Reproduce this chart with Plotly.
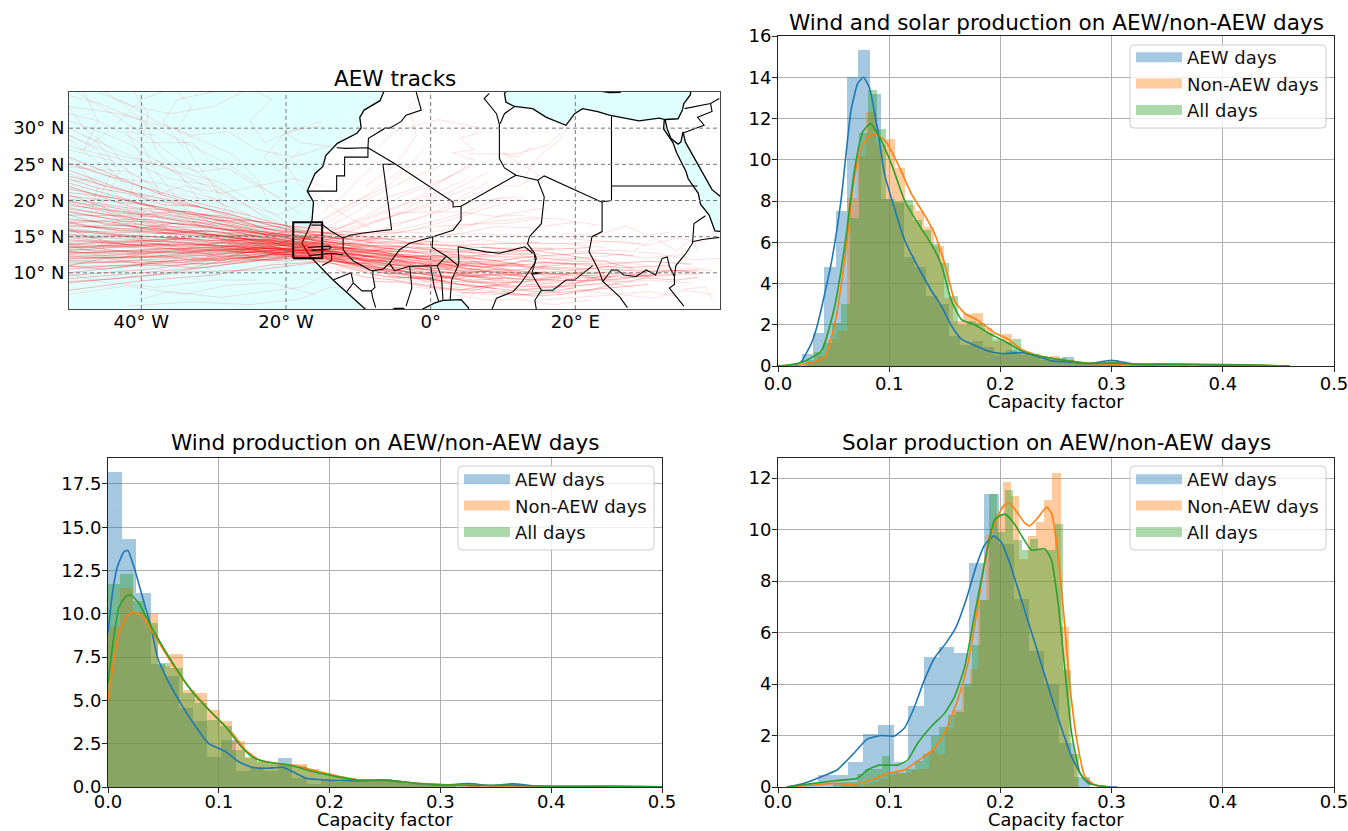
import plotly.graph_objects as go

W, H = 1348, 831
BLUE, ORANGE, GREEN = "#1f77b4", "#ff7f0e", "#2ca02c"
FONT = "DejaVu Sans"
NAMES = ["AEW days", "Non-AEW days", "All days"]

# ---------- histogram data: top right (wind and solar) ----------
tr_aew_x = [.0263,.0365,.0467,.0569,.0671,.0773,.0875,.0977,.1079,.1181,.1283,.1385,.1487,.1589,.1691,.1793,.1895,.1997,.2099,.2201,.2303,.2405,.2507,.2609,.2711,.2813,.2915,.3017,.3119,.3221,.3323,.3425,.3527,.3629]
tr_aew_y = [.6,1.6,4.8,7.5,14.0,15.3,13.2,8.1,7.9,5.3,4.8,3.4,3.0,1.45,1.0,1.2,.9,.55,.76,.65,.5,.3,.2,.45,.15,.1,.15,.3,.1,.02,.03,.15,.05,.1]
tr_non_x = [.0316,.0403,.049,.0577,.0664,.0751,.0838,.0925,.1012,.1099,.1186,.1273,.136,.1447,.1534,.1621,.1708,.1795,.1882,.1969,.2056,.2143,.223,.2317,.2404,.2491,.2578,.2665,.2752,.2839,.2926,.3013,.31,.3274,.3448,.3622,.3796,.397,.4144,.4318]
tr_non_y = [.2,.5,1.3,1.7,8.15,10.2,12.3,10.7,11.0,9.6,7.8,7.5,6.75,5.8,3.3,2.2,2.5,2.55,1.85,1.2,1.55,.7,.65,.6,.4,.5,.3,.25,.2,.15,.1,.1,.1,.05,.05,.1,.05,.02,.05,.05]
tr_all_x = [.0285,.0366,.0447,.0528,.0609,.069,.0771,.0852,.0933,.1014,.1095,.1176,.1257,.1338,.1419,.15,.1581,.1662,.1743,.1824,.1905,.1986,.2067,.2148,.2229,.231,.2391,.2472,.2553,.2634,.2715,.2796,.2877,.2958,.3039,.3201,.3363,.3525,.3687,.3849,.4011,.4173]
tr_all_y = [.3,.7,1.1,2.1,3.0,7.2,11.3,13.4,11.5,8.1,8.0,8.05,7.1,6.6,5.9,5.0,3.4,2.0,2.2,2.1,1.6,1.3,1.15,1.3,.55,.6,.5,.35,.4,.3,.15,.1,.15,.15,.2,.05,.08,.08,.05,.03,.03,.05]
tr_aew_kx = [0,.01,.02,.03,.0355,.0476,.0566,.0657,.0717,.0768,.0822,.0898,.0958,.1033,.1139,.126,.138,.147,.156,.165,.177,.189,.201,.219,.231,.246,.261,.28,.3,.32,.35,.4,.46]
tr_aew_ky = [0,.03,.15,1.1,2.0,4.9,8.0,12.4,13.7,14.0,13.5,11.4,9.3,7.9,6.1,4.8,3.65,2.9,1.95,1.3,1.0,.73,.6,.65,.5,.25,.2,.12,.28,.1,.1,.03,0]
tr_non_kx = [0,.02,.0416,.052,.061,.067,.073,.0807,.0883,.0973,.1078,.12,.132,.141,.15,.159,.168,.18,.195,.207,.219,.234,.252,.261,.28,.3,.33,.36,.42,.46]
tr_non_ky = [0,.05,.4,2.3,5.6,8.5,10.3,11.1,11.25,10.85,9.8,8.35,7.3,6.4,4.95,3.15,2.55,2.2,1.6,1.3,.8,.5,.33,.25,.12,.1,.05,.08,.06,0]
tr_all_kx = [0,.02,.0386,.0506,.061,.0687,.0762,.0831,.0913,.102,.114,.126,.138,.147,.156,.165,.177,.189,.204,.219,.234,.261,.28,.3,.33,.36,.42,.46]
tr_all_ky = [0,.15,.7,2.8,6.2,9.5,11.35,11.75,11.1,9.8,8.0,6.9,5.9,4.9,3.15,2.25,2.0,1.6,1.2,.73,.5,.25,.13,.15,.06,.08,.06,0]

# ---------- histogram data: bottom left (wind) ----------
bl_aew_x = [.0064,.0192,.032,.0448,.0576,.0704,.0832,.096,.1088,.1216,.1344,.1472,.16,.1728,.1856,.1984,.2112,.224,.2368,.2496,.2624,.2752,.288,.3008,.3136,.3264,.3392,.352,.3648]
bl_aew_y = [18.2,14.3,11.2,7.1,6.4,4.55,3.8,1.75,2.7,.9,1.1,.95,1.7,.5,.15,.4,.3,.35,.45,.45,.3,.2,.1,.1,.05,.25,.05,.05,.2]
bl_non_x = [.0056,.0168,.028,.0392,.0504,.0616,.0728,.084,.0952,.1064,.1176,.1288,.14,.1512,.1624,.1736,.1848,.196,.2072,.2184,.2296,.2408,.252,.2632,.2744,.2856,.2968,.308,.3304,.3528,.3976,.4424]
bl_non_y = [9.3,11.5,10.1,10.0,7.0,7.67,5.6,5.4,4.45,3.8,2.65,1.75,1.45,1.4,1.3,1.35,1.05,.8,.6,.5,.45,.4,.4,.3,.25,.2,.15,.15,.1,.08,.05,.05]
bl_all_x = bl_non_x
bl_all_y = [11.7,12.3,10.75,9.5,7.15,6.9,5.4,4.85,3.85,3.5,2.15,1.7,1.5,1.3,1.25,1.2,1.0,.8,.65,.5,.45,.4,.4,.3,.25,.2,.15,.15,.12,.1,.05,.05]
bl_aew_kx = [0,.004,.0084,.0145,.018,.0235,.031,.0386,.0446,.052,.064,.079,.091,.106,.118,.13,.1425,.1575,.1666,.179,.197,.227,.25,.28,.3,.325,.345,.365,.39,.42,.46,.5]
bl_aew_ky = [8.9,11.2,12.7,13.6,13.65,12.7,11.0,9.3,7.5,6.4,5.0,3.5,2.5,2.05,1.46,1.14,1.08,1.14,.89,.5,.4,.37,.42,.2,.1,.2,.08,.18,.04,.02,.02,.01]
bl_non_kx = [0,.004,.01,.0175,.0235,.031,.0416,.055,.07,.085,.1,.1123,.124,.1365,.1515,.1726,.19,.209,.227,.25,.28,.3,.33,.36,.4,.45,.5]
bl_non_ky = [5.0,6.8,8.9,9.9,10.1,9.85,8.8,7.4,6.0,4.9,3.87,3.1,2.14,1.56,1.37,1.18,.89,.6,.4,.38,.22,.14,.08,.06,.04,.05,.01]
bl_all_kx = [0,.004,.01,.016,.0205,.028,.037,.0476,.061,.076,.091,.106,.118,.13,.1425,.1636,.185,.206,.227,.25,.28,.3,.33,.36,.4,.45,.5]
bl_all_ky = [6.0,8.1,10.4,11.0,11.1,10.6,9.5,8.3,6.9,5.5,4.45,3.5,2.5,1.75,1.46,1.27,.89,.6,.37,.38,.2,.14,.1,.1,.04,.04,.01]

# ---------- histogram data: bottom right (solar) ----------
br_aew_x = [.0294,.0429,.0565,.07,.0836,.0971,.1107,.1242,.1378,.1513,.1649,.1784,.192,.2055,.2191,.2326,.2462,.2597,.2733]
br_aew_y = [.1,.47,.47,.96,2.05,2.4,.96,3.15,5.06,5.43,5.2,8.7,11.4,9.45,7.3,5.3,4.0,1.7,.4]
br_non_x = [.06,.07,.08,.0876,.095,.1024,.1098,.1172,.1246,.132,.1394,.1468,.1542,.1616,.169,.1764,.1838,.1912,.1986,.206,.2134,.2208,.2282,.2356,.243,.2504,.2578,.2652]
br_non_y = [.05,.1,.1,.2,.3,.45,.55,.55,.65,.7,1.4,1.3,2.3,3.0,3.9,4.6,7.25,9.8,10.6,11.85,11.3,8.85,9.75,10.3,11.15,12.2,6.2,1.3]
br_all_x = [.053,.06,.0674,.0748,.0822,.0896,.097,.1044,.1118,.1192,.1266,.134,.1414,.1488,.1562,.1636,.171,.1784,.1858,.1932,.2006,.208,.2154,.2228,.2302,.2376,.245,.2524,.2598,.2672]
br_all_y = [.15,.2,.2,.5,.7,.7,1.2,.6,.55,.7,1.0,1.3,2.0,2.35,2.8,2.9,4.0,5.5,7.25,11.4,9.9,11.55,9.6,9.2,9.65,9.2,9.2,10.2,4.55,1.3]
br_aew_kx = [.008,.023,.038,.053,.068,.08,.0925,.1045,.1135,.1226,.1316,.1406,.1512,.16,.169,.178,.1858,.194,.201,.2084,.219,.231,.243,.2536,.264,.2747,.285,.297,.305]
br_aew_ky = [0,.14,.38,.66,1.3,1.85,2.0,1.98,2.28,3.1,4.15,5.0,5.6,6.2,7.25,8.55,9.4,9.75,9.5,8.7,7.25,5.6,3.9,2.47,1.18,.34,.08,.01,0]
br_non_kx = [.008,.032,.053,.068,.0834,.0985,.1135,.1286,.1406,.1497,.1617,.1708,.18,.1873,.195,.2024,.2075,.2145,.222,.2265,.2325,.2416,.246,.2506,.2566,.2626,.2687,.276,.285,.297]
br_non_ky = [0,.08,.14,.1,.27,.53,.66,1.1,1.5,2.1,3.4,4.8,7.1,9.1,10.25,10.9,11.05,10.7,10.25,10.15,10.4,10.87,10.63,9.47,6.9,3.9,1.83,.4,.08,0]
br_all_kx = [.008,.032,.053,.0714,.0804,.091,.1075,.1166,.1256,.1376,.1497,.1587,.168,.177,.1858,.195,.204,.213,.2205,.228,.24,.246,.252,.258,.264,.2717,.279,.297]
br_all_ky = [0,.14,.25,.34,.66,.85,.85,1.05,1.7,2.34,2.86,3.5,4.68,6.75,8.7,10.4,10.6,10.2,9.66,9.2,9.25,8.8,7.1,4.55,2.1,.53,.14,0]

# ---------- map data (lon, lat) ----------
lon_ticks = [-40, -20, 0, 20]
lon_labels = ["40° W", "20° W", "0°", "20° E"]
lat_ticks = [10, 15, 20, 25, 30]
lat_labels = ["10° N", "15° N", "20° N", "25° N", "30° N"]

africa = [(-6.4,35.5),(-6.5,35),(-7,33.8),(-9.2,32.5),(-9.8,31.5),(-9.6,30),(-10.2,29.3),(-12.9,27.9),(-14.5,26.2),(-14.9,24.7),(-16,23.7),(-16.9,21.8),(-17.06,21.3),(-16.2,19.8),(-16.4,17.3),(-16.9,16),(-17.8,14.1),(-16.7,12.3),(-15.3,10.9),(-13.5,9),(-11.5,7.2),(-9.1,5.1),(-8.5,4.5),(-5.8,4.5),(-5,5.1),(-3.8,5.1),(-3,4.5),(-1.6,4.5),(-1.1,5),(0.5,5.8),(1.7,6.2),(4.2,6.3),(5.2,5.2),(5.4,4.5),(40.5,4.5),(40.5,15.7),(39.3,15.8),(38.5,18),(37.3,19.5),(37,21),(35.6,23),(35.3,24),(34,26.6),(33.5,28),(32.2,29.9),(32.3,31.2),(31.6,31.4),(28.8,31),(24.7,31.8),(23.1,32.3),(21,32.7),(19.9,32),(18.7,30.4),(16,31.5),(14.1,32.7),(11.6,33),(10.4,33.6),(10.2,34.8),(10.8,35.5)]
arabia = [(32.4,31.2),(34.2,31.3),(34.8,32.5),(35,33.4),(35.9,34.6),(36,35.5),(40.5,35.5),(40.5,20.2),(38.9,21.5),(37.2,24.5),(35.2,28.1),(34.9,29.5),(34.6,28.1),(34.2,27.8),(33.2,28.6),(32.7,29.9)]
crete = [(23.6,35.3),(26.2,35.3),(26.2,34.95),(24.7,34.9),(23.6,35.1)]
borders = [
 [(-13,27.3),(-11.7,27.2),(-8.67,27.3),(-8.67,26),(-11.9,26),(-11.9,23.4),(-13,23.4),(-13,21.3),(-17,21.3)],
 [(-8.67,27.3),(-4.83,25),(-6.6,25),(-5.4,16),(-9.3,15.5),(-11.2,15.2),(-12.1,14.8)],
 [(-4.83,25),(1.2,21.1),(3.1,19.8),(3.1,19.1),(4.2,19.2),(11.8,23.5)],
 [(4.2,19.2),(4.2,17.3),(3.1,15.9),(0.3,15),(-2.9,14.1),(-4.3,13.2),(-5.7,11.3),(-6.6,10.5),(-8,10.3)],
 [(0.3,15),(0.2,13.5),(1.5,12.7),(2.2,12.3),(3.8,11)],
 [(3.8,13.6),(3.9,11.5),(3.8,11),(2.9,9),(2.7,6.3)],
 [(3.8,13.6),(7.7,12.9),(9.5,12.7),(13,13.6),(14.1,12.7)],
 [(13.66,15),(15.3,16.8),(15.7,20.5),(14.8,22.8),(11.8,23.5)],
 [(13.66,15),(13.4,14),(14.3,12.8),(14.6,12),(14,10),(15.3,10),(14,9.8),(15.3,7.6),(14.4,6.2),(14.6,5)],
 [(14.8,22.8),(15.7,23.4),(23.6,19.8),(25,20),(25,31.8)],
 [(25,22),(36.9,22)],
 [(23.7,19.8),(23.7,15.7),(22.3,15),(21.9,12.9),(22.6,11.6),(23.3,10.2),(23.8,8.8),(26.1,6.7),(27.2,5.2)],
 [(15.3,7.6),(16.9,7.6),(18.7,9),(19.9,9),(22.4,11)],
 [(14.3,12.8),(14.5,11.5),(12.5,8.6),(11.4,7.4),(9.1,6.5),(8.5,5)],
 [(23.8,8.8),(25,10.4),(25.8,10.4),(26.7,9.7),(28.4,9.5),(29.8,10.4),(31.1,9.7),(32,12),(32.7,12.2),(33,10.9),(33.7,9.5),(33.7,8.4),(33,7.9),(35,5.4)],
 [(33.7,9.5),(33.9,11),(35.3,12.7),(36.2,14.1),(36.4,16.8),(38,17.9)],
 [(36.2,14.3),(37.6,14.6),(39.9,14.9)],
 [(-2,35),(-1.3,32.5),(-3.4,31.8),(-4.1,30.9),(-5.7,30),(-6.3,30),(-8.6,28.6),(-8.67,27.3)],
 [(8.1,34.8),(7.4,34.1),(9.1,32),(9.5,30.5),(9.5,25.8),(10.2,24.5),(11.8,23.5)],
 [(9.6,30.6),(10.2,32),(11.6,33)],
 [(-16.5,16.6),(-14.9,16.6),(-13.7,15.7),(-12.1,14.8),(-12.1,13.2),(-11.3,12.2),(-10.6,11.6),(-8.4,10.4),(-8,10.3),(-8,9.6),(-7.7,8),(-8.2,7.5),(-8,6.5),(-7.6,5.2)],
 [(-17,13.5),(-14,13.7),(-13.8,13.5),(-14,13.3),(-16.5,13.1)],
 [(-16.7,12.4),(-13.7,12.7),(-12.1,12.5)],
 [(-13.7,12.7),(-13.7,11.7),(-15,11)],
 [(-13.5,9),(-11,10),(-10.7,8.6),(-11.6,7.4)],
 [(-10.7,8.6),(-9.5,7.5),(-8.2,7.5)],
 [(-5.7,11.3),(-5,10.3),(-2.9,10.9),(-0.1,10.9),(0.9,11),(2.2,12.3)],
 [(-2.9,10.9),(-2.6,7.9),(-3.4,5.4)],
 [(0,10.9),(0.5,8),(1.1,6.1)],
 [(0.9,11),(1.5,9.4),(1.7,6.3)],
 [(35.1,32.7),(38.7,33.4),(39.9,34.1)],
 [(38.7,33.4),(38.9,32.3),(36.9,31.5),(37.8,30.4),(34.8,29.3)],
]
box_lon = [-19, -15, -15, -19, -19]
box_lat = [12, 12, 17, 17, 12]

tracks_main = [
 [(37,10.4),(30,10.2),(22,10.6),(14,10.8),(6,11.2),(-2,12),(-10,13),(-17,14),(-24,14.4),(-32,15.5),(-41,16.4),(-50,17.5)],
 [(34,9.8),(27,9.4),(20,9.7),(12,10.1),(4,10.2),(-5,11.4),(-12,12.4),(-19,13.2),(-27,13.6),(-36,14.2),(-44,14.8),(-50,15)],
 [(36,11.2),(30,11.6),(24,11.2),(16,11.4),(9,10.8),(1,11),(-7,12),(-15,13.1),(-22,13.4),(-30,13.1),(-39,13.4),(-50,14)],
 [(32,10),(26,9.1),(19,8.9),(12,9.2),(6,9.4),(0,10.4),(-8,11.5),(-16,12.6),(-24,12.5),(-33,12.4),(-42,12),(-50,12.2)],
 [(28,12.4),(22,12.8),(15,12.3),(8,11.6),(2,11.5),(-6,12.7),(-14,14.3),(-21,15.2),(-29,16.8),(-38,18.4),(-50,20.2)],
 [(25,9.4),(18,8.2),(12,8.1),(6,8.7),(-1,9.8),(-9,11),(-17,12.8),(-25,13.1),(-34,12.9),(-43,13.1),(-50,13.2)],
 [(30,8.4),(24,7.9),(18,7.3),(11,7.6),(4,8.4),(-3,9.5),(-11,11.2),(-18,12.3),(-26,12.1),(-35,11.4),(-44,11),(-50,10.5)],
 [(22,13.5),(15,13.1),(8,12.8),(0,12.9),(-7,13.4),(-15,14.7),(-23,15.6),(-31,17.6),(-40,19.6),(-50,22.4)],
 [(20,11.2),(13,11.6),(6,10.5),(-2,11.2),(-10,12),(-18,13.6),(-26,14.8),(-34,15.6),(-43,17.2),(-50,18.5)],
 [(16,10.2),(10,9.6),(4,9.9),(-3,10.8),(-11,12.1),(-18,13),(-25,13.9),(-33,14.7),(-42,15.2),(-50,16.1)],
 [(26,11),(19,10.3),(11,9.7),(4,10.8),(-4,12.4),(-12,13.5),(-19,14.4),(-27,15.5),(-36,16.1),(-44,17.9),(-50,19)],
 [(18,9.2),(11,8.6),(5,8.9),(-2,10),(-9,11),(-16,12.1),(-23,12.9),(-31,12.6),(-40,12.9),(-50,12.8)],
 [(14,12.2),(8,12.2),(2,12.6),(-5,13),(-13,14),(-20,14.1),(-28,14),(-37,14.9),(-45,15.4),(-50,15.7)],
 [(12,8.8),(6,8),(0,9.2),(-7,10.4),(-14,12),(-21,12.4),(-30,11.7),(-38,10.6),(-50,9.6)],
 [(24,10),(17,9.9),(10,10.4),(3,11.4),(-5,11.9),(-12,12.8),(-20,13.6),(-28,15),(-38,16.8),(-50,19.6)],
 [(10,11),(4,11.6),(-3,12.3),(-10,12.9),(-17,13.8),(-25,13.2),(-34,13.9),(-43,13.8),(-50,13.6)],
 [(8,9.5),(2,9.6),(-4,10.6),(-11,11.6),(-18,12.8),(-26,13.7),(-35,13.3),(-50,14.6)],
 [(15,14.2),(9,14),(3,13.8),(-4,14.2),(-11,14.6),(-17,15.4),(-24,17),(-31,18.9),(-39,20.2),(-50,24.2)],
 [(6,13),(0,13.5),(-7,13.7),(-14,13.9),(-20,14.8),(-27,16.2),(-36,17.4),(-44,18.6),(-50,20.8)],
 [(5,11),(-1,11.5),(-8,12.7),(-15,13.4),(-22,14.4),(-30,14.5),(-39,15),(-50,15.2)],
 [(4,9.2),(-2,9.9),(-9,10.8),(-15,12),(-22,11.9),(-31,11.2),(-40,11.7),(-50,11.2)],
 [(2,12.2),(-5,12.3),(-12,13),(-19,13.9),(-27,13.2),(-36,13),(-45,12.4),(-50,13)],
 [(0,10.8),(-6,11.2),(-13,12.5),(-20,12.8),(-28,12.9),(-37,12.3),(-50,11.9)],
 [(-1,14),(-8,14.2),(-14,14.9),(-20,16),(-28,18.2),(-35,19.8),(-43,21.5),(-50,23.4)],
 [(-2,12.8),(-9,13.2),(-16,13.7),(-23,14.1),(-31,14.9),(-40,14.4),(-50,14.4)],
 [(-3,11),(-9,11.9),(-16,12.9),(-23,13.4),(-32,13.9),(-41,14.9),(-50,15.9)],
 [(-4,13.6),(-10,13.9),(-16,14.4),(-22,15.6),(-30,16.2),(-38,17.8),(-50,18)],
 [(-5,12),(-11,12.6),(-17,13.3),(-24,12.3),(-33,11.9),(-42,10.9),(-50,10)],
 [(-6,10.6),(-12,11.9),(-18,13.4),(-26,13.4),(-33,14.2),(-42,13.9),(-50,15.4)],
 [(-7,14.7),(-13,14.7),(-19,15.1),(-26,16.9),(-34,17.9),(-42,20),(-50,21.6)],
 [(-8,12.2),(-14,12.9),(-20,13.2),(-27,12.7),(-36,12.1),(-50,12.5)],
 [(-9,13.4),(-15,13.6),(-21,14.6),(-28,14.5),(-37,15.6),(-45,16),(-50,16.9)],
 [(-10,11.2),(-16,12.2),(-22,12.6),(-29,11.4),(-37,11),(-50,10.9)],
 [(-11,13.9),(-17,14.6),(-23,14.8),(-31,16.5),(-40,17.1),(-50,17.2)],
 [(-12,12.1),(-18,12.4),(-25,12.8),(-33,13.4),(-41,12.8),(-50,13.9)],
 [(-13,15.4),(-18,15.9),(-25,17.9),(-32,19.6),(-41,22.2),(-50,25.2)],
 [(-13,13),(-19,13),(-26,12.4),(-34,12),(-44,11.6),(-50,11.7)],
 [(-14,14),(-20,14.3),(-27,14.8),(-35,15.9),(-45,16.7),(-50,18)],
 [(-15,12.5),(-21,13.1),(-29,13.3),(-38,13.9),(-50,13.1)],
 [(-15,15.2),(-21,15.8),(-28,17),(-36,18.8),(-44,20.4),(-50,21.1)],
 [(-16,13.1),(-23,13.5),(-31,13),(-39,12.2),(-50,12)],
 [(-16,14.7),(-22,15.1),(-30,15.2),(-38,16),(-50,16.4)],
 [(-17,12.5),(-24,11.6),(-31,10.8),(-40,10),(-50,9.2)],
 [(-17,14.1),(-24,15),(-32,17),(-40,18.2),(-50,19.3)],
 [(-18,13.3),(-26,13.1),(-35,14.4),(-44,14.2),(-50,14.9)],
 [(-18,15.6),(-25,16.4),(-33,18.4),(-41,19),(-50,22)],
 [(-19,13.7),(-27,14.2),(-36,13.7),(-50,13.5)],
 [(-20,12.2),(-28,11.2),(-37,9.9),(-50,8.6)],
 [(-20,15),(-28,15.9),(-37,17),(-50,18.8)],
 [(-22,13.8),(-30,13.5),(-40,13.2),(-50,12.6)],
 [(-24,14),(-33,15.4),(-43,15.8),(-50,17)],
 [(-12,14.3),(-17,15),(-23,16.2),(-30,18.5),(-38,21.1),(-50,26)],
 [(-8,11.2),(-14,11.6),(-22,11.1),(-30,9.7),(-40,8.9),(-50,7.6)],
 [(-16,11.4),(-24,10.4),(-34,10.1),(-43,9.2),(-50,8.8)],
 [(3,12),(-3,13),(-10,14),(-16,14.2),(-23,14.5),(-30,15.7),(-40,15.9),(-50,16.6)],
 [(7,10.8),(0,11.8),(-7,12.6),(-14,13),(-21,13.9),(-29,13.8),(-40,14),(-50,13.4)],
 [(11,10),(4,10.4),(-3,11.6),(-10,12.4),(-17,13.1),(-24,13),(-33,12.8),(-43,12.6),(-50,12.9)],
 [(13,11),(7,12),(0,12.2),(-7,12.9),(-14,13.5),(-21,14.2),(-29,15),(-39,15.5),(-50,15.8)],
 [(9,8.6),(3,8.8),(-4,9.4),(-10,10.8),(-16,12.4),(-22,12.1),(-31,11.9),(-41,11.4),(-50,11.5)],
]
tracks_core = [
 [(-3,12.1),(-7,12.4),(-10,12.2),(-13,12.9),(-16,13.2),(-19,13.1),(-22,13.7),(-25,13.3),(-28,14)],
 [(-2,11.3),(-6,11.9),(-9,11.6),(-12,12.5),(-15,12.7),(-18,13.5),(-21,13.2),(-24,13.8),(-27,13.4)],
 [(-4,12.9),(-8,13),(-11,13.4),(-14,13.2),(-17,13.6),(-20,13.4),(-23,12.9),(-26,13.5)],
 [(-1,10.3),(-5,10.8),(-8,11.4),(-11,11.3),(-14,12.3),(-17,12.4),(-20,12.9),(-24,12.7),(-28,13)],
 [(-5,13.3),(-9,13.7),(-12,13.5),(-15,14),(-18,14.4),(-21,14.3),(-24,14.9),(-28,15.3)],
 [(-6,11.6),(-10,12.6),(-13,12.2),(-16,12.9),(-19,12.5),(-22,13),(-26,12.8)],
 [(-7,13.1),(-10,13),(-13,13.8),(-16,13.4),(-19,14),(-22,13.6),(-25,14.2),(-29,14.4)],
 [(-4,11),(-7,11.1),(-11,12),(-14,11.9),(-17,13),(-20,12.4),(-23,13.1),(-27,12.6)],
 [(-8,14.1),(-11,14.1),(-14,13.9),(-17,14.3),(-20,14.9),(-23,15.4),(-27,16)],
 [(-3,13.5),(-6,13.4),(-9,12.9),(-12,13.1),(-15,13.8),(-18,14.1),(-22,14),(-26,14.3)],
 [(-9,12.1),(-12,11.8),(-15,12.2),(-18,12.9),(-21,12.3),(-24,13.1),(-28,12.3)],
 [(-10,13.3),(-13,13.6),(-16,13.7),(-19,13.5),(-22,14.2),(-25,13.9),(-29,13.7)],
 [(-2,9.9),(-6,9.9),(-9,10.4),(-12,11),(-15,11.6),(-18,12.2),(-22,11.7),(-26,11.9)],
 [(-11,14.8),(-14,14.9),(-17,15.2),(-20,15.2),(-24,16),(-28,16.6),(-33,17.1)],
 [(-12,12.7),(-15,12.4),(-18,12.7),(-21,13.5),(-24,13.2),(-28,13.4),(-33,13.1)],
 [(-13,13.5),(-16,14),(-19,13.8),(-22,14.6),(-26,14.7),(-31,14.4),(-36,15)],
 [(-14,11.2),(-17,11.9),(-20,11.6),(-24,11.9),(-28,11.6),(-33,12)],
 [(-14,14.5),(-17,14.7),(-20,14.5),(-24,15.5),(-28,14.9),(-33,15.7),(-38,15.4)],
 [(-15,13),(-18,13.2),(-21,12.7),(-25,12.1),(-29,12.3),(-34,11.5)],
 [(-16,15.6),(-19,15.7),(-23,15.3),(-27,15.9),(-32,16.3),(-38,16.4),(-44,17)],
 [(-19,12.8),(-23,12.3),(-27,12.4),(-32,11.6),(-37,12.4),(-42,12.5)],
 [(-20,13.9),(-24,13.6),(-29,14.2),(-34,13.4),(-40,14.3),(-46,13.8)],
 [(-21,14.8),(-26,15.2),(-31,15.9),(-36,15.4),(-42,16.6),(-48,16.4)],
 [(-23,12.4),(-28,11.9),(-33,10.7),(-39,11.3),(-45,10.5),(-50,10.9)],
 [(-25,14.6),(-30,14.1),(-36,14.7),(-42,14.4),(-50,13.9)],
 [(-26,16),(-31,17.2),(-37,18),(-43,18.2),(-50,20)],
 [(5,10.1),(2,10.7),(-1,10.5),(-4,11.6),(-7,11.6),(-10,11.7)],
 [(8,10.2),(4,10),(1,10.1),(-2,10.6),(-5,10.2),(-8,10.9),(-12,11.4)],
 [(3,11.1),(0,11.3),(-3,11.5),(-6,12),(-9,12.3),(-12,12.9)],
 [(10,9.2),(6,9),(3,9.3),(0,9.9),(-3,10),(-6,11)],
 [(7,11.9),(4,12.3),(1,12.4),(-2,12.4),(-5,12.6),(-8,13.2)],
 [(12,11.3),(8,11),(5,11.9),(2,11.8),(-1,12.3),(-4,12.2)],
 [(14,9.3),(10,9.9),(7,9.6),(4,9.6),(1,9.4),(-2,9.4)],
 [(16,11),(12,10.4),(8,10.4),(5,10.5),(2,11.2),(-1,10.9)],
 [(18,10.4),(15,10.6),(11,11.2),(8,11.4),(5,11.3),(2,10.5)],
 [(20,9.2),(16,9.4),(13,8.8),(9,8.9),(6,9.5),(3,9.9)],
 [(22,10.4),(18,9.6),(15,9),(11,9.2),(8,9.8),(4,9.3)],
 [(15,12.6),(11,12.6),(8,12.4),(5,12.9),(1,13.1),(-2,13.5)],
 [(9,7.8),(5,8.4),(2,8.5),(-1,8.9),(-4,10),(-7,10.3)],
 [(26,10.2),(22,9.9),(19,10),(16,9.7),(13,9.9),(9,10.2)],
 [(30,9.7),(26,10),(23,9.4),(20,8.6),(17,8.6),(13,8.3)],
 [(24,8.6),(20,8.2),(16,8),(13,7.7),(9,8.2),(6,7.6)],
 [(28,10.6),(24,11.6),(20,11.6),(16,12),(12,11.6)],
 [(33,11),(29,10.8),(26,10.7),(23,11),(19,11.2),(15,10.8)],
 [(36,10.1),(33,10.4),(30,9.5),(27,9.9),(24,9.3),(21,9.4)],
 [(37,9.4),(34,9),(30,9.3),(27,8.8),(24,8.9),(20,9.9)],
 [(-6,16),(-9,15.5),(-12,15.7),(-15,15.3),(-18,15),(-21,15.4),(-25,15.2)],
 [(1,14.4),(-3,14.2),(-7,14.9),(-11,14.2),(-14,15),(-18,14.7)],
 [(-30,16.3),(-35,16.9),(-40,16.2),(-45,17.2),(-50,16.9)],
 [(-30,12.5),(-36,13.4),(-41,13),(-46,12.9),(-50,13.7)],
 [(-28,17.5),(-34,18.5),(-39,18.2),(-45,19.2),(-50,19.8)],
 [(-33,15),(-38,14.3),(-43,15.1),(-47,14.9),(-50,16)],
 [(-35,11.8),(-40,11.3),(-45,12),(-50,11)],
 [(-32,19.2),(-37,19.4),(-42,21),(-46,21.7),(-50,23)],
 [(-13,16.2),(-16,16.3),(-19,16.4),(-23,17),(-27,17.4),(-32,18.1)],
 [(-14,15.6),(-17,15.6),(-20,16.3),(-24,16.5),(-29,17.9),(-35,18.2)],
 [(-12,15.3),(-16,15.1),(-19,14.6),(-23,15.7),(-27,15.5),(-32,15.2)],
 [(-14,12.7),(-17,13.4),(-20,13.8),(-23,14.4),(-26,14),(-30,14.9)],
 [(-13,14.2),(-16,14.4),(-19,15.3),(-22,15.1),(-25,15.8),(-29,15.9)],
 [(-15,14.3),(-18,14.9),(-21,14.1),(-24,14.3),(-27,15.1),(-31,15.1)],
 [(-16,12.4),(-18,12.1),(-21,12.9),(-24,12),(-27,12.9),(-31,12.2)],
 [(-15,16),(-18,16.2),(-21,16.7),(-25,17.3),(-30,17.2)],
 [(-17,13.9),(-20,13.1),(-23,14),(-26,13.1),(-30,13.3),(-35,12.7)],
 [(-12,13.4),(-15,12.9),(-18,13.9),(-21,14.5),(-24,14.6),(-28,14.8)],
 [(6,7.5),(2,7.9),(-2,8.5),(-5,9),(-9,9.4),(-13,10.4)],
 [(11,8.4),(7,8.1),(4,7.6),(0,8),(-4,8.7),(-8,8.8)],
 [(20,8),(16,7.2),(12,6.9),(8,7.3),(4,7.2)],
 [(26,8.6),(22,7.6),(18,7),(14,6.8),(10,7.4)],
 [(23,11.8),(19,12.4),(15,13),(11,13.2),(7,13.6)],
 [(17,13.4),(13,13.4),(9,13.4),(5,13.6),(1,13.8),(-3,14)],
 [(8,12.6),(5,12.2),(2,12.9),(-1,13.2),(-5,13.8),(-9,14.3)],
 [(13,9.5),(10,10.6),(6,10.1),(2,9.2),(-2,9.2),(-6,9.6)],
 [(2,8.8),(-1,9.4),(-5,9.3),(-8,9.8),(-11,10.6),(-14,11.4)],
 [(-5,14.5),(-8,14.9),(-11,15.2),(-14,15.4),(-17,15.9)],
 [(-34,16.6),(-39,17.4),(-44,17.4),(-50,18.4)],
 [(-36,13.9),(-41,13.8),(-46,14.2),(-50,14.1)],
 [(-33,13.2),(-38,12.8),(-43,12.1),(-50,12.3)],
 [(-38,19.2),(-43,19.8),(-47,20.2),(-50,20.6)],
]
tracks_north = [
 [(-30,14),(-33,17.5),(-36,20),(-40,23),(-44,25.5),(-50,27)],
 [(-24,15),(-28,19),(-33,22),(-37,25),(-42,28),(-47,30),(-50,31)],
 [(-20,17),(-25,20),(-29,22.5),(-35,24),(-41,26),(-48,29)],
 [(-18,18),(-22,21),(-28,25),(-34,28),(-40,31),(-46,33.5),(-50,34.5)],
 [(-25,12),(-29,16),(-34,19),(-38,24),(-40,28),(-39,32),(-41,35)],
 [(-35,14),(-38,18),(-41,21),(-44,24),(-47,26),(-50,28.5)],
 [(-40,15),(-42,19),(-41,23),(-44,27),(-48,30),(-50,33)],
 [(-28,18),(-30,22),(-33,26),(-35,30),(-33,33),(-35,35)],
 [(-32,20),(-35,24),(-38,27),(-39,30),(-42,33),(-45,35)],
 [(-22,19),(-24,23),(-26,25),(-27,26.2),(-31,28),(-36,30),(-43,32),(-50,33)],
 [(-45,13),(-47,18),(-46,22),(-49,25),(-50,26)],
 [(-38,29),(-42,29.5),(-40,26),(-38,22),(-36,18)],
 [(-15,22),(-19,23),(-24,22),(-28,24.5),(-32,24),(-38,25.5)],
 [(-21,30),(-18,28),(-14,27.5),(-19,26),(-24,27),(-28,29.5),(-33,29),(-38,31),(-43,34)],
 [(-15,31),(-18,30),(-23,28),(-25,31),(-22,34),(-24,35)],
 [(-18,27),(-21,24),(-23,26),(-20,29.5),(-15,30.3)],
 [(-34,27),(-37,31),(-35,34),(-30,35)],
 [(-48,35),(-46,31),(-48,27),(-44,30),(-40,34),(-37,35)],
 [(-50,30),(-46,28),(-43,24),(-45,20),(-48,19)],
 [(-26,35),(-30,33),(-36,32),(-41,33),(-46,35)],
 [(-8,16),(-12,18),(-15,20),(-18,22),(-20,25),(-22,27)],
 [(-20,20),(-24,22),(-29,21),(-34,22),(-39,20.5),(-45,22),(-50,23.7)],
 [(-17,20),(-21,18),(-26,19.5),(-31,20.5),(-37,22.3),(-44,23.2),(-50,25)],
 [(-25,18),(-30,20),(-36,21),(-42,24),(-50,24.6)],
 [(-16,7),(-22,8.6),(-28,8.3),(-34,7),(-42,8.2),(-50,7)],
 [(-14,10),(-18,8),(-23,7.4),(-29,6.6),(-36,7.4),(-40,6.4)],
 [(-10,8),(-14,8),(-18,6.4),(-25,5.6),(-33,6),(-42,5.4)],
 [(-24,9),(-30,9),(-38,8),(-46,8.8),(-50,9.9)],
 [(-27,20),(-33,23),(-38,25),(-44,26.5),(-50,29)],
 [(-22,17),(-28,21),(-34,25),(-38,28),(-44,32),(-49,35)],
 [(-19,16),(-24,18.5),(-30,22),(-36,23),(-42,25.5),(-50,27.5)],
 [(-31,16),(-36,18.5),(-42,20),(-47,23),(-50,22.6)],
 [(-36,15),(-40,18),(-44,19),(-47,21),(-50,21.8)],
 [(-43,17),(-46,20),(-44,24),(-46,27),(-50,29)],
 [(-29,24),(-33,28),(-40,28),(-46,31),(-50,32)],
]
tracks_sahel = [
 [(4,24),(0,22),(-4,20.6),(-8,18.4),(-13,16),(-18,14.2)],
 [(6,25),(2,23),(-3,21.4),(-8,19.8),(-12,17.5),(-17,15)],
 [(8,24),(3,21.3),(-2,19.6),(-6,17.5),(-11,16),(-16,14.5)],
 [(6,22),(1,20),(-3,18.6),(-8,16.9),(-13,15),(-18,13.6)],
 [(10,22.4),(5,20.4),(0,18.2),(-5,16.5),(-10,15.2),(-15,14.4)],
 [(13,20.4),(8,19),(3,17.4),(-2,16),(-8,15),(-14,14.7)],
 [(2,25),(-3,23),(-7,21),(-11,19),(-15,16.5)],
 [(-1,27),(-3,24.6),(-6,22),(-10,20),(-14,17.8),(-18,15.5)],
 [(-7,25.5),(-10,23),(-12,20.7),(-15,18.4)],
 [(16,19),(10,18),(5,16.4),(0,15.6),(-6,15.6),(-12,15.2)],
 [(20,17),(14,16.2),(9,16.4),(4,15.4),(-2,14.8),(-9,14.6)],
 [(23,16.6),(18,17.4),(14,17.7),(8,17),(3,16.4)],
 [(14,27.4),(12,26),(10,26.5),(13,24.8),(15,23.5),(12,22),(9,22)],
 [(7,29.4),(4,28.6),(6,27),(3,26.6),(6,25.6),(4,24)],
 [(18,29.3),(16,27.6),(12,26.5),(8,26.4),(5,26.5)],
 [(20,32),(18,28.6),(16,27),(14,25),(13,23)],
 [(7,30),(1,31.2),(-5,29.5),(-7,27.5)],
 [(12,20.5),(7,20),(3,19),(-2,17.4),(-6,16.6)],
 [(24,13.5),(18,14.1),(12,14),(7,14.6),(2,14.1),(-4,14.8)],
 [(29,14),(23,14.4),(17,14.8),(12,15.2),(7,15.4),(1,15.3)],
 [(-1,35),(-3,33),(-2,29),(-4,26),(-6,24),(-9,22)],
 [(13,18),(9,17.8),(4,18.4),(-1,18.4),(-6,18.2)],
 [(5,23),(1,21.2),(-4,19.4),(-9,17.6),(-14,15.6)],
 [(8,22.6),(3,19.8),(-1,19),(-5,17.9),(-10,16.6),(-15,15.1)],
 [(10,20.6),(5,18.4),(0,17),(-5,15.8),(-11,14.9)],
 [(15,17.5),(10,16.8),(4,16.7),(-1,16.2),(-7,15.2)],
 [(3,23.6),(-1,20.9),(-5,18.8),(-10,17),(-16,15.2)],
 [(-3,25),(-6,22.8),(-9,20.6),(-13,18.6),(-17,16.2)],
]
tracks_east = [
 [(38,10.6),(33,10.7),(28,10.5),(23,10.2),(18,10.6),(13,10.4)],
 [(37,9.8),(32,10.2),(26,10),(20,9.5),(14,9.6),(8,9.2)],
 [(36,8.6),(30,9),(25,8.4),(19,8.2),(14,7.7),(8,7.4)],
 [(35,12.6),(30,12),(26,12.5),(21,12.1),(15,11.5)],
 [(38,14.2),(34,14.8),(30,13.8),(26,14.4),(21,14.1),(15,14)],
 [(33,15.6),(30,15.2),(27,16.5),(23,15.2),(18,15.4)],
 [(40,12),(36,11.8),(31,12.7),(26,13.1),(20,13)],
 [(39,7),(35,7.6),(31,6.5),(26,7),(20,6.6),(15,6.2)],
 [(34,6.8),(30,7.4),(25,7),(20,7.8),(14,8.2)],
 [(38,10),(33,9.6),(27,9.3),(22,8.9),(16,8.8),(10,8)],
 [(30,11),(25,11.6),(19,12),(14,12.6),(9,13)],
 [(37,13),(36,14.6),(34,13),(31,14.8),(28,13)],
 [(39,10.4),(36,10.2),(32,10.4),(29,10.2)],
 [(35,7.8),(38,8),(39,6.2)],
 [(22,6.2),(17,5.6),(12,6.4),(8,6.2),(3,7)],
 [(18,8),(13,7),(8,7),(3,7.5),(-2,8)],
 [(16,12),(12,12.5),(7,13.1),(2,13.3),(-3,13.4)],
 [(19,11.4),(14,11),(9,11.6),(4,12.2),(0,12.5)],
 [(17,9),(12,9.6),(7,10),(2,10),(-3,10.2)],
 [(28,8),(23,9),(18,9.8),(14,10),(9,9.8)],
 [(12,7.2),(7,7.6),(2,8.2),(-3,9),(-8,9.8)],
 [(10,9),(6,9.6),(1,10.6),(-4,11.2),(-9,12)],
 [(15,9.9),(9,10.8),(4,11),(-1,11.1),(-7,11.7)],
 [(12,12),(7,11.1),(2,10.9),(-3,11.9),(-9,12.6)],
 [(6,9.9),(1,9.9),(-5,10.3),(-12,11.1),(-18,12.1)],
 [(9,11.7),(3,12.1),(-3,12),(-9,12.4),(-15,13.2)],
 [(3,10.4),(-2,10.9),(-7,11.3),(-12,12.2),(-18,13.2)],
 [(1,9.2),(-4,9.8),(-9,10.2),(-14,10.9),(-18,11.8)],
]
dense_tracks = tracks_main + tracks_core
pale_tracks = tracks_north + tracks_sahel + tracks_east

# ---------- panel geometry in pixels ----------
MAP = (69, 720, 92, 309)
TR = (778, 1334, 36, 366)
BL = (108, 662, 458, 787)
BR = (778, 1334, 458, 787)
LEG = [("legend", 1324, 39, (1130, 1326, 45, 128)),
       ("legend2", 652, 461, (458, 654, 466, 550)),
       ("legend3", 1324, 461, (1130, 1326, 466, 550))]

def dom(p):
    return dict(x=[p[0] / W, p[1] / W], y=[1 - p[3] / H, 1 - p[2] / H])

fig = go.Figure()

def poly(pts, **kw):
    fig.add_trace(go.Scatter(x=[a for a, b in pts], y=[b for a, b in pts], mode="lines",
                             xaxis="x", yaxis="y", showlegend=False, hoverinfo="skip", **kw))

for shape in (africa, arabia, crete):
    poly(shape + shape[:1], fill="toself", fillcolor="white", line=dict(color="black", width=1.3))
for tr in pale_tracks:
    poly(tr, line=dict(color="rgba(255,0,0,0.16)", width=0.8))
for tr in dense_tracks:
    poly(tr, line=dict(color="rgba(255,0,0,0.3)", width=0.9))
for b in borders:
    poly(b, line=dict(color="black", width=1.1))
fig.add_trace(go.Scatter(x=box_lon, y=box_lat, mode="lines", line=dict(color="black", width=2),
                         xaxis="x", yaxis="y", showlegend=False, hoverinfo="skip"))

panels = [
    ("x2", "y2", "legend", [
        (tr_aew_x, tr_aew_y, tr_aew_kx, tr_aew_ky, BLUE),
        (tr_non_x, tr_non_y, tr_non_kx, tr_non_ky, ORANGE),
        (tr_all_x, tr_all_y, tr_all_kx, tr_all_ky, GREEN)]),
    ("x3", "y3", "legend2", [
        (bl_aew_x, bl_aew_y, bl_aew_kx, bl_aew_ky, BLUE),
        (bl_non_x, bl_non_y, bl_non_kx, bl_non_ky, ORANGE),
        (bl_all_x, bl_all_y, bl_all_kx, bl_all_ky, GREEN)]),
    ("x4", "y4", "legend3", [
        (br_aew_x, br_aew_y, br_aew_kx, br_aew_ky, BLUE),
        (br_non_x, br_non_y, br_non_kx, br_non_ky, ORANGE),
        (br_all_x, br_all_y, br_all_kx, br_all_ky, GREEN)]),
]
widths = {"x2": [0.0103, 0.0088, 0.0082], "x3": [0.0129, 0.0113, 0.0113], "x4": [0.0137, 0.0075, 0.0075]}
for xa, ya, leg, series in panels:
    for i, (bx, by, kx, ky, col) in enumerate(series):
        fig.add_trace(go.Bar(x=bx, y=by, width=widths[xa][i], marker=dict(color=col, line=dict(width=0)),
                             opacity=0.4, xaxis=xa, yaxis=ya, showlegend=False, name=NAMES[i]))
        fig.add_trace(go.Scatter(x=kx, y=ky, mode="lines", line=dict(color=col, width=1.6, shape="spline", smoothing=0.5),
                                 xaxis=xa, yaxis=ya, showlegend=False, name=NAMES[i]))
    for i, (_, _, _, _, col) in enumerate(series):
        fig.add_trace(go.Scatter(x=[None], y=[None], mode="lines", name=NAMES[i], opacity=0.4,
                                 line=dict(color=col, width=10), xaxis=xa, yaxis=ya, legend=leg, showlegend=True))

TICKF = dict(size=18, family=FONT, color="black")

def hist_x(p, standoff=-4, **kw):
    d = dict(domain=dom(p)["x"], range=[0, 0.5], tickvals=[0, .1, .2, .3, .4, .5],
             ticktext=["0.0", "0.1", "0.2", "0.3", "0.4", "0.5"], showgrid=True, gridcolor="#b0b0b0", gridwidth=1,
             showline=True, linecolor="#222", linewidth=1, mirror=True, ticks="outside", ticklen=5, tickcolor="#222",
             zeroline=False, automargin=False, tickfont=TICKF, ticklabeloverflow="allow", ticklabelstandoff=standoff)
    d.update(kw)
    return d

def hist_y(p, rng, vals, text, **kw):
    d = dict(domain=dom(p)["y"], range=rng, tickvals=vals, ticktext=text, showgrid=True, gridcolor="#b0b0b0", gridwidth=1,
             showline=True, linecolor="#222", linewidth=1, mirror=True, ticks="outside", ticklen=5, tickcolor="#222",
             zeroline=False, automargin=False, tickfont=TICKF, ticklabelstandoff=-3)
    d.update(kw)
    return d

def legend_at(right, top):
    return dict(x=right / W, xref="paper", xanchor="right", y=1 - top / H, yanchor="top", yref="paper",
                font=dict(size=18, family=FONT, color="#111"), bgcolor="rgba(0,0,0,0)", borderwidth=0,
                itemwidth=46, traceorder="normal")

def frame(b, r=4):
    x0, x1, y0, y1 = b[0] / W, b[1] / W, 1 - b[2] / H, 1 - b[3] / H
    rx, ry = r / W, r / H
    path = (f"M{x0 + rx},{y0} L{x1 - rx},{y0} Q{x1},{y0} {x1},{y0 - ry} L{x1},{y1 + ry} Q{x1},{y1} {x1 - rx},{y1} "
            f"L{x0 + rx},{y1} Q{x0},{y1} {x0},{y1 + ry} L{x0},{y0 - ry} Q{x0},{y0} {x0 + rx},{y0} Z")
    return dict(type="path", path=path, xref="paper", yref="paper", fillcolor="rgba(255,255,255,0.8)",
                line=dict(color="#ccc", width=1), layer="above")

def title(text, p, ypx):
    return dict(text=text, x=(p[0] + p[1]) / 2 / W, y=1 - ypx / H, xref="paper", yref="paper", showarrow=False,
                xanchor="center", yanchor="middle", font=dict(size=21.5, family=FONT, color="black"))

def xlabel(p, ypx):
    return dict(text="Capacity factor", x=(p[0] + p[1]) / 2 / W, y=1 - ypx / H, xref="paper", yref="paper", showarrow=False,
                xanchor="center", yanchor="middle", borderpad=0, font=dict(size=17.8, family=FONT, color="black"))

shapes = [dict(type="rect", xref="x domain", yref="y domain", x0=0, x1=1, y0=0, y1=1,
               fillcolor="#e0ffff", line=dict(width=0), layer="below")]
for lon in lon_ticks:
    shapes.append(dict(type="line", xref="x", yref="paper", x0=lon, x1=lon, y0=dom(MAP)["y"][0], y1=dom(MAP)["y"][1],
                       line=dict(color="#777", width=1, dash="4px,3px"), layer="above"))
for lat in lat_ticks:
    shapes.append(dict(type="line", xref="paper", yref="y", x0=dom(MAP)["x"][0], x1=dom(MAP)["x"][1], y0=lat, y1=lat,
                       line=dict(color="#777", width=1, dash="4px,3px"), layer="above"))
shapes += [frame(l[3]) for l in LEG]

fig.update_layout(
    width=W, height=H, margin=dict(l=0, r=0, t=0, b=0), autosize=False,
    paper_bgcolor="white", plot_bgcolor="white", barmode="overlay", bargap=0,
    xaxis=dict(domain=dom(MAP)["x"], range=[-50, 40], tickvals=lon_ticks, ticktext=lon_labels, showgrid=False,
               zeroline=False, showline=True, linecolor="#444", linewidth=1, mirror=True, ticks="", automargin=False,
               tickfont=TICKF, ticklabelstandoff=-4),
    yaxis=dict(domain=dom(MAP)["y"], range=[5, 35], tickvals=lat_ticks, ticktext=lat_labels, showgrid=False,
               zeroline=False, showline=True, linecolor="#444", linewidth=1, mirror=True, ticks="", automargin=False,
               tickfont=TICKF),
    xaxis2=hist_x(TR, anchor="y2"),
    yaxis2=hist_y(TR, [0, 16], list(range(0, 17, 2)), [str(v) for v in range(0, 17, 2)], anchor="x2"),
    xaxis3=hist_x(BL, standoff=-7, anchor="y3"),
    yaxis3=hist_y(BL, [0, 19], [0, 2.5, 5, 7.5, 10, 12.5, 15, 17.5], ["0.0", "2.5", "5.0", "7.5", "10.0", "12.5", "15.0", "17.5"], anchor="x3"),
    xaxis4=hist_x(BR, standoff=-7, anchor="y4"),
    yaxis4=hist_y(BR, [0, 12.78], list(range(0, 13, 2)), [str(v) for v in range(0, 13, 2)], anchor="x4"),
    legend=legend_at(LEG[0][1], LEG[0][2]), legend2=legend_at(LEG[1][1], LEG[1][2]), legend3=legend_at(LEG[2][1], LEG[2][2]),
    annotations=[title("AEW tracks", MAP, 78), title("Wind and solar production on AEW/non-AEW days", TR, 22),
                 title("Wind production on AEW/non-AEW days", BL, 443), title("Solar production on AEW/non-AEW days", BR, 443),
                 xlabel(TR, 401), xlabel(BL, 819.5), xlabel(BR, 819.5)],
    shapes=shapes,
)
fig.write_html("out.html", post_script="document.body.style.margin='0';", config=dict(displayModeBar=False))
